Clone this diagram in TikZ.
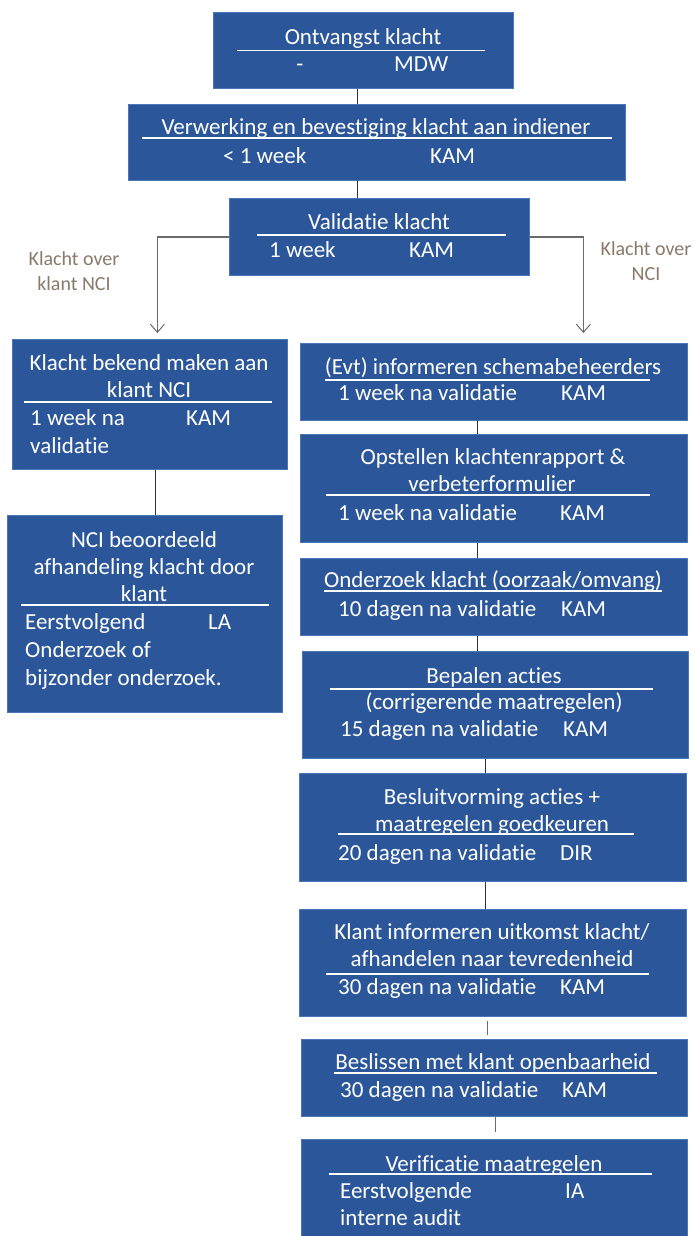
\documentclass[tikz,border=0pt]{standalone}
\usepackage{fontspec}
\setmainfont{Carlito}[Ligatures=NoCommon]
\usetikzlibrary{arrows.meta}
\definecolor{boxblue}{HTML}{2B579A}
\definecolor{boxedge}{HTML}{4A76BC}
\definecolor{lblcol}{HTML}{8A7A6A}
\definecolor{conncol}{HTML}{333333}
\definecolor{branchcol}{HTML}{6A6A6A}
\newcommand\bx[5]{\node[box, minimum width={#4-#2}, minimum height={#5-#3}] (#1) at (#2,#3) {};}
\begin{document}
\begin{tikzpicture}[x=1pt,y=-1pt,
 box/.style={draw=boxedge, fill=boxblue, line width=0.8pt, inner sep=0pt, anchor=north west},
 txt/.style={text=white, font=\fontsize{23}{27}\selectfont, inner sep=0pt, yshift=-4pt},
 ctxt/.style={txt, anchor=mid},
 ltxt/.style={txt, anchor=mid west},
 rule/.style={draw=white, line width=1.1pt},
 conn/.style={draw=conncol, line width=1.4pt},
 branch/.style={draw=branchcol, line width=1.3pt, -{Straight Barb[length=8pt,width=14pt,line width=1pt]}},
 lbl/.style={text=lblcol, font=\fontsize{20}{25.5}\selectfont, align=center, inner sep=0pt}]
\useasboundingbox (0,0) rectangle (693,1236);
\fill[white] (0,0) rectangle (693,1236);

% ---- boxes
\bx{b1}{213}{12}{513}{88}
\bx{b2}{128}{104}{625}{180}
\bx{b3}{229}{198}{529}{275}
\bx{ba}{12}{339}{287}{469}
\bx{bb}{7}{515}{282}{712}
\bx{r1}{300}{343}{687}{420}
\bx{r2}{300}{434}{687}{542}
\bx{r3}{300}{558}{687}{635}
\bx{r4}{302}{651}{688}{758}
\bx{r5}{299}{773}{686}{881}
\bx{r6}{299}{909}{686}{1016}
\bx{r7}{301}{1039}{687}{1116}
\bx{r8}{301}{1139}{687}{1245}

% ---- connectors
\draw[conn] ([xshift=-6pt]b1.south) -- ([xshift=-6pt]b1.south |- b2.north);
\draw[conn] ([xshift=-19.5pt]b2.south) -- ([xshift=-19.5pt]b2.south |- b3.north);
\draw[conn] ([xshift=5.5pt]ba.south) -- ([xshift=5.5pt]ba.south |- bb.north);
\draw[conn] ([xshift=-16.5pt]r1.south) -- ([xshift=-16.5pt]r1.south |- r2.north);
\draw[conn] ([xshift=-16.5pt]r2.south) -- ([xshift=-16.5pt]r2.south |- r3.north);
\draw[conn] ([xshift=-16.5pt]r3.south) -- ([xshift=-16.5pt]r3.south |- r4.north);
\draw[conn] ([xshift=-10pt]r4.south) -- ([xshift=-10pt]r4.south |- r5.north);
\draw[conn] ([xshift=-7.5pt]r5.south) -- ([xshift=-7.5pt]r5.south |- r6.north);
\draw[conn, draw=branchcol, shorten <=4pt, shorten >=4pt] ([xshift=-5.5pt]r6.south) -- ([xshift=-5.5pt]r6.south |- r7.north);
\draw[conn, draw=branchcol, shorten >=7pt] ([xshift=1pt]r7.south) -- ([xshift=1pt]r7.south |- r8.north);

% ---- branches
\draw[branch] (b3.west) -| ([xshift=7.5pt,yshift=6pt]ba.north);
\draw[branch] (b3.east) -| ([xshift=89.5pt,yshift=10pt]r1.north);
\node[lbl] (lblL) at (74,271) {Klacht over\\klant NCI};
\node[lbl] (lblR) at (646,261) {Klacht over\\NCI};

% ---- box 1
\node[ctxt] (b1t) at (363,38) {Ontvangst klacht};
\draw[rule] (237,50.5) -- (485,50.5);
\node[ctxt] (b1d) at (300,65) {-};
\node[ltxt] (b1r) at (394,65) {MDW};
% ---- box 2
\node[ctxt] (b2t) at (376,128) {Verwerking en bevestiging klacht aan indiener};
\draw[rule] (142,138) -- (612,138);
\node[ltxt] (b2d) at (223,157) {< 1 week};
\node[ltxt] (b2r) at (430,157) {KAM};
% ---- box 3
\node[ctxt] (b3t) at (379,223) {Validatie klacht};
\draw[rule] (257,235) -- (506,235);
\node[ltxt] (b3d) at (269,251) {1 week};
\node[ltxt] (b3r) at (409,251) {KAM};
% ---- box A
\node[ctxt] (bat1) at (149,364) {Klacht bekend maken aan};
\node[ctxt] (bat2) at (149,391) {klant NCI};
\draw[rule] (24,402) -- (272,402);
\node[ltxt] (bad1) at (30,419) {1 week na};
\node[ltxt] (bar) at (186,419) {KAM};
\node[ltxt] (bad2) at (30,447) {validatie};
% ---- box B
\node[ctxt] (bbt1) at (144,541) {NCI beoordeeld};
\node[ctxt] (bbt2) at (144,568) {afhandeling klacht door};
\node[ctxt] (bbt3) at (144,595) {klant};
\draw[rule] (21,605) -- (269,605);
\node[ltxt] (bbd1) at (25,623) {Eerstvolgend};
\node[ltxt] (bbr) at (208,623) {LA};
\node[ltxt] (bbd2) at (25,651) {Onderzoek of};
\node[ltxt] (bbd3) at (25,679) {bijzonder onderzoek.};
% ---- R1
\node[ctxt] (r1t) at (493,368) {(Evt) informeren schemabeheerders};
\draw[rule] (325,380) -- (650,380);
\node[ltxt] (r1d) at (338,394) {1 week na validatie};
\node[ltxt] (r1r) at (561,394) {KAM};
% ---- R2
\node[ctxt] (r2t1) at (493,458) {Opstellen klachtenrapport \&};
\node[ctxt] (r2t2) at (492,485) {verbeterformulier};
\draw[rule] (326,495) -- (650,495);
\node[ltxt] (r2d) at (338,514) {1 week na validatie};
\node[ltxt] (r2r) at (560,514) {KAM};
% ---- R3
\node[ctxt] (r3t) at (493,581) {Onderzoek klacht (oorzaak/omvang)};
\draw[rule] (324,591) -- (662,591);
\node[ltxt] (r3d) at (338,610) {10 dagen na validatie};
\node[ltxt] (r3r) at (561,610) {KAM};
% ---- R4
\node[ctxt] (r4t1) at (494,677) {Bepalen acties};
\draw[rule] (330,689) -- (653,689);
\node[ctxt] (r4t2) at (494,703) {(corrigerende maatregelen)};
\node[ltxt] (r4d) at (340,730) {15 dagen na validatie};
\node[ltxt] (r4r) at (563,730) {KAM};
% ---- R5
\node[ctxt] (r5t1) at (492,798) {Besluitvorming acties +};
\node[ctxt] (r5t2) at (492,825) {maatregelen goedkeuren};
\draw[rule] (338,834) -- (634,834);
\node[ltxt] (r5d) at (338,854) {20 dagen na validatie};
\node[ltxt] (r5r) at (560,854) {DIR};
% ---- R6
\node[ctxt] (r6t1) at (492,933) {Klant informeren uitkomst klacht/};
\node[ctxt] (r6t2) at (492,960) {afhandelen naar tevredenheid};
\draw[rule] (326,974) -- (649,974);
\node[ltxt] (r6d) at (338,988) {30 dagen na validatie};
\node[ltxt] (r6r) at (560,988) {KAM};
% ---- R7
\node[ctxt] (r7t) at (493,1063) {Beslissen met klant openbaarheid};
\draw[rule] (334,1073) -- (657,1073);
\node[ltxt] (r7d) at (340,1091) {30 dagen na validatie};
\node[ltxt] (r7r) at (562,1091) {KAM};
% ---- R8
\node[ctxt] (r8t) at (494,1165) {Verificatie maatregelen};
\draw[rule] (329,1174) -- (652,1174);
\node[ltxt] (r8d1) at (340,1192) {Eerstvolgende};
\node[ltxt] (r8r) at (565,1192) {IA};
\node[ltxt] (r8d2) at (340,1219) {interne audit};
\end{tikzpicture}
\end{document}
